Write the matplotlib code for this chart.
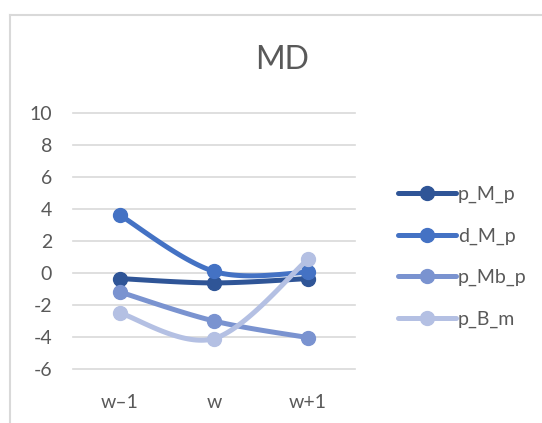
import numpy as np
import matplotlib
matplotlib.use("Agg")
import matplotlib.pyplot as plt
from matplotlib.lines import Line2D

plt.rcParams["font.family"] = ["Lato", "DejaVu Sans"]
plt.rcParams["axes.unicode_minus"] = False

categories = ["w\u20131", "w", "w+1"]
series_names = ["p_M_p", "d_M_p", "p_Mb_p", "p_B_m"]
p_M_p = [-0.33, -0.6, -0.33]
d_M_p = [3.63, 0.12, 0.06]
p_Mb_p = [-1.17, -2.98, -4.02]
p_B_m = [-2.48, -4.08, 0.88]
colors = ["#2F5597", "#4472C4", "#7A93D0", "#B4C0E3"]


def smooth(xs, ys, n=40):
    # catmull-rom style curve like excel's smoothed line
    xs = np.asarray(xs, float)
    ys = np.asarray(ys, float)
    px = np.concatenate([[xs[0]], xs, [xs[-1]]])
    py = np.concatenate([[ys[0]], ys, [ys[-1]]])
    outx, outy = [], []
    for i in range(1, len(px) - 2):
        t = np.linspace(0, 1, n)
        c1x = px[i] + (px[i + 1] - px[i - 1]) / 6
        c1y = py[i] + (py[i + 1] - py[i - 1]) / 6
        c2x = px[i + 1] - (px[i + 2] - px[i]) / 6
        c2y = py[i + 1] - (py[i + 2] - py[i]) / 6
        bx = ((1 - t) ** 3 * px[i] + 3 * (1 - t) ** 2 * t * c1x
              + 3 * (1 - t) * t ** 2 * c2x + t ** 3 * px[i + 1])
        by = ((1 - t) ** 3 * py[i] + 3 * (1 - t) ** 2 * t * c1y
              + 3 * (1 - t) * t ** 2 * c2y + t ** 3 * py[i + 1])
        outx.extend(bx)
        outy.extend(by)
    return np.array(outx), np.array(outy)


fig = plt.figure(figsize=(5.42, 4.23), dpi=100)
ax = fig.add_axes([73 / 542, 1 - 369.3 / 423, (355 - 73) / 542, (369.3 - 113.3) / 423])

x = np.arange(len(categories))
for name, vals, c in zip(series_names, [p_M_p, d_M_p, p_Mb_p, p_B_m], colors):
    sx, sy = smooth(x, vals)
    ax.plot(sx, sy, color=c, lw=3.6, solid_capstyle="round", zorder=3)
    ax.plot(x, vals, "o", color=c, ms=10, zorder=4)

ax.set_xlim(-0.5, 2.5)
ax.set_ylim(-6, 10)
ax.set_yticks(range(-6, 11, 2))
ax.set_xticks(x)
ax.set_xticklabels(categories)
ax.yaxis.grid(True, color="#D9D9D9", lw=1.2, zorder=0)
for g in ax.get_ygridlines():
    g.set_clip_on(False)
for s in ax.spines.values():
    s.set_visible(False)
ax.tick_params(length=0, colors="#595959", labelsize=14)
ax.tick_params(axis="x", pad=18)
ax.tick_params(axis="y", pad=15)

fig.text(282 / 542, 1 - 60 / 423, "MD", ha="center", va="center",
         fontsize=23, color="#595959")

handles = [Line2D([0], [0], color=c, lw=3.6, marker="o", ms=10,
                  solid_capstyle="round") for c in colors]
fig.legend(handles, series_names, loc="center left",
           bbox_to_anchor=(380 / 542, 1 - 257 / 423), frameon=False,
           fontsize=14, labelcolor="#595959", handlelength=3.0,
           handletextpad=0.1, labelspacing=1.25)

fig.add_artist(Line2D([10 / 542, 10 / 542], [0, 1 - 15 / 423],
                      color="#D9D9D9", lw=1.5, transform=fig.transFigure))
fig.add_artist(Line2D([10 / 542, 1], [1 - 15 / 423, 1 - 15 / 423],
                      color="#D9D9D9", lw=1.5, transform=fig.transFigure))

fig.savefig("out.png", dpi=100)
